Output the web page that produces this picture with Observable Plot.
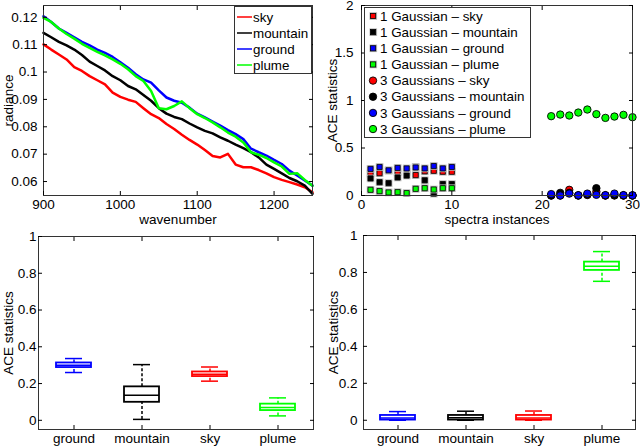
<!DOCTYPE html>
<html>
<head>
<meta charset="utf-8">
<script src="https://cdn.jsdelivr.net/npm/d3@7"></script>
<script src="https://cdn.jsdelivr.net/npm/@observablehq/plot@0.6"></script>
<style>
  body { margin: 0; background: #fff; }
  #wrap { position: relative; width: 640px; height: 446px; overflow: hidden; background: #fff;
          font-family: "Liberation Sans", Arial, Helvetica, sans-serif; }
  #wrap > svg { position: absolute; overflow: visible; }
  #wrap svg text { font-family: "Liberation Sans", Arial, Helvetica, sans-serif; fill: #000; }
</style>
</head>
<body>
<div id="wrap"></div>
<script>
// ---------- Top-left: spectra ----------
const wavenumber = [900,910,920,930,940,950,960,970,980,990,1000,1010,1020,1030,1040,1050,1060,1070,1080,1090,1100,1110,1120,1130,1140,1150,1160,1170,1180,1190,1200,1210,1220,1230,1240,1250];
const skyRadiance = [0.1101,0.1082,0.1064,0.1046,0.1018,0.1004,0.0985,0.0970,0.0955,0.0925,0.0909,0.0899,0.0891,0.0868,0.0846,0.0832,0.0810,0.0792,0.0771,0.0752,0.0735,0.0715,0.0693,0.0688,0.0701,0.0662,0.0652,0.0652,0.0642,0.0630,0.0616,0.0606,0.0598,0.0589,0.0579,0.0561];
const mountainRadiance = [0.1143,0.1127,0.1110,0.1097,0.1082,0.1062,0.1038,0.1022,0.1006,0.0985,0.0970,0.0949,0.0937,0.0916,0.0895,0.0868,0.0848,0.0836,0.0828,0.0812,0.0798,0.0785,0.0776,0.0761,0.0749,0.0735,0.0722,0.0707,0.0688,0.0662,0.0646,0.0630,0.0613,0.0601,0.0585,0.0555];
const groundRadiance = [0.1204,0.1183,0.1159,0.1143,0.1127,0.1110,0.1097,0.1082,0.1070,0.1055,0.1036,0.1016,0.0992,0.0973,0.0961,0.0933,0.0907,0.0895,0.0888,0.0870,0.0848,0.0834,0.0819,0.0804,0.0788,0.0773,0.0755,0.0720,0.0707,0.0695,0.0679,0.0664,0.0640,0.0622,0.0604,0.0585];
const plumeRadiance = [0.1198,0.1183,0.1159,0.1139,0.1122,0.1103,0.1088,0.1074,0.1061,0.1046,0.1030,0.1010,0.0985,0.0967,0.0931,0.0868,0.0864,0.0876,0.0893,0.0868,0.0846,0.0832,0.0816,0.0798,0.0779,0.0764,0.0743,0.0707,0.0698,0.0686,0.0670,0.0655,0.0628,0.0630,0.0606,0.0585];
const materials = ["sky", "mountain", "ground", "plume"];
const materialColors = ["#ff0000", "#000000", "#0000ff", "#00ff00"];
const tlXTicks = [900, 1000, 1100, 1200];
const tlYTicks = [0.06, 0.07, 0.08, 0.09, 0.1, 0.11, 0.12];

// ---------- Top-right: ACE statistics per spectrum ----------
const instances1 = [1,2,3,4,5,6,7,8,9,10];
const instances3 = [21,22,23,24,25,26,27,28,29,30];
const gauss1Sky      = [0.23, 0.235, 0.262, 0.245, 0.25, 0.215, 0.255, 0.26, 0.25, 0.25];
const gauss1Mountain = [0.18, 0.14, 0.13, 0.19, 0.21, 0.30, 0.16, 0.02, 0.12, 0.12];
const gauss1Ground   = [0.28, 0.30, 0.265, 0.29, 0.285, 0.295, 0.285, 0.31, 0.285, 0.30];
const gauss1Plume    = [0.06, 0.046, 0.032, 0.035, 0.025, 0.07, 0.077, 0.063, 0.077, 0.077];
const gauss3Sky      = [0.0, 0.0, 0.06, 0.0, 0.005, 0.04, 0.0, 0.0, 0.0, 0.0];
const gauss3Mountain = [0.0, 0.028, 0.028, 0.0, 0.01, 0.077, 0.0, 0.003, 0.0, 0.0];
const gauss3Ground   = [0.015, 0.0, 0.02, 0.003, 0.02, 0.007, 0.004, 0.02, 0.004, 0.002];
const gauss3Plume    = [0.835, 0.852, 0.842, 0.873, 0.905, 0.856, 0.817, 0.831, 0.849, 0.824];
const trXTicks = [0, 10, 20, 30];
const trYTicks = [0, 0.5, 1, 1.5, 2];
const trLegend = ["1 Gaussian – sky", "1 Gaussian – mountain", "1 Gaussian – ground", "1 Gaussian – plume",
                  "3 Gaussians – sky", "3 Gaussians – mountain", "3 Gaussians – ground", "3 Gaussians – plume"];

// ---------- Bottom: box plots ----------
const boxCats = ["ground", "mountain", "sky", "plume"];
const boxColors = ["#0000ff", "#000000", "#ff0000", "#00ff00"];
const box1Min = [0.260, 0.005, 0.213, 0.024];
const box1Q1  = [0.287, 0.098, 0.238, 0.053];
const box1Med = [0.299, 0.137, 0.250, 0.070];
const box1Q3  = [0.312, 0.182, 0.263, 0.088];
const box1Max = [0.336, 0.303, 0.290, 0.122];
const box3Min = [0.000, 0.000, 0.000, 0.752];
const box3Q1  = [0.001, 0.001, 0.001, 0.811];
const box3Med = [0.012, 0.013, 0.012, 0.833];
const box3Q3  = [0.026, 0.026, 0.026, 0.856];
const box3Max = [0.047, 0.049, 0.050, 0.913];
const boxYTicks = [0, 0.2, 0.4, 0.6, 0.8, 1];

// ---------- helpers ----------
const FONT = '"Liberation Sans", Arial, Helvetica, sans-serif';
const FS = 13.5;
const fmt = d => String(+d.toFixed(2));
const wrap = document.getElementById("wrap");
function place(svg, left, top) {
  svg.setAttribute("font-family", FONT);
  svg.setAttribute("font-size", FS);
  svg.style.fontFamily = FONT;
  svg.style.fontSize = FS + "px";
  svg.style.background = "transparent";
  svg.style.left = left + "px"; svg.style.top = top + "px";
  wrap.appendChild(svg);
}
function frameAxes(xt, yt, xLabel, yLabel, o) {
  return [
    Plot.frame({stroke: "#333"}),
    Plot.axisX(xt, {anchor: "bottom", tickSize: -4, tickPadding: o.xPad, tickFormat: o.xFmt, label: xLabel, labelAnchor: "center", labelOffset: 28, labelArrow: "none"}),
    Plot.axisX(xt, {anchor: "top", tickSize: -4, tickFormat: () => "", label: null}),
    Plot.axisY(yt, {anchor: "left", tickSize: -4, tickPadding: o.yPad, tickFormat: fmt, label: yLabel, labelAnchor: "center", labelOffset: o.yLabOff, labelArrow: "none"}),
    Plot.axisY(yt, {anchor: "right", tickSize: -4, tickFormat: () => "", label: null})
  ];
}

// Top-left
const spectra = [];
[skyRadiance, mountainRadiance, groundRadiance, plumeRadiance].forEach((vals, k) =>
  vals.forEach((v, i) => spectra.push({wavenumber: wavenumber[i], radiance: v, material: materials[k]})));
place(Plot.plot({
  width: 320, height: 222, marginLeft: 43, marginRight: 8, marginTop: 5, marginBottom: 27,
  x: {domain: [900, 1250]}, y: {domain: [0.0549, 0.1243]},
  color: {domain: materials, range: materialColors},
  marks: [
    Plot.line(spectra, {x: "wavenumber", y: "radiance", z: "material", stroke: "material", strokeWidth: 2.5}),
    ...frameAxes(tlXTicks, tlYTicks, "wavenumber", "radiance", {xPad: 8, yPad: 10, yLabOff: 40, xFmt: d => String(d)})
  ]
}), 0, 0);

// Top-right
const sq = [], ci = [];
[gauss1Sky, gauss1Mountain, gauss1Ground, gauss1Plume].forEach((vals, k) =>
  vals.forEach((v, i) => sq.push({instance: instances1[i], ace: v, material: materials[k]})));
[gauss3Sky, gauss3Mountain, gauss3Ground, gauss3Plume].forEach((vals, k) =>
  vals.forEach((v, i) => ci.push({instance: instances3[i], ace: v, material: materials[k]})));
const sqMarks = [];
materials.forEach((m, k) => {
  const d = sq.filter(r => r.material === m);
  sqMarks.push(Plot.dot(d, {x: "instance", y: "ace", symbol: "square", r: 4.3, fill: "#b8b8b8"}));
  sqMarks.push(Plot.dot(d, {x: "instance", y: "ace", symbol: "square", r: 2.9, fill: materialColors[k], stroke: "#000", strokeWidth: 0.8}));
});
place(Plot.plot({
  width: 320, height: 222, marginLeft: 41, marginRight: 8, marginTop: 5, marginBottom: 27,
  x: {domain: [0, 30]}, y: {domain: [0, 2]},
  color: {domain: materials, range: materialColors},
  marks: [
    ...sqMarks,
    Plot.dot(ci, {x: "instance", y: "ace", r: 3.7, fill: "material", stroke: "#000", strokeWidth: 0.9}),
    ...frameAxes(trXTicks, trYTicks, "spectra instances", "ACE statistics", {xPad: 8, yPad: 12, yLabOff: 34, xFmt: d => String(d)})
  ]
}), 320, 0);

// Bottom box plots
function boxPanel(mins, q1s, meds, q3s, maxs, ml, mr, mt, labOff, yPad) {
  const stats = boxCats.map((c, i) => ({cat: c, min: mins[i], q1: q1s[i], med: meds[i], q3: q3s[i], max: maxs[i]}));
  return Plot.plot({
    width: 320, height: 224, marginLeft: ml, marginRight: mr, marginTop: mt, marginBottom: 17,
    x: {domain: boxCats, paddingInner: 0.49, paddingOuter: 0.245},
    y: {domain: [-0.05, 1]},
    color: {domain: boxCats, range: boxColors},
    marks: [
      Plot.ruleX(stats, {x: "cat", y1: "q3", y2: "max", stroke: "cat", strokeWidth: 1.5, strokeDasharray: "3,2"}),
      Plot.ruleX(stats, {x: "cat", y1: "min", y2: "q1", stroke: "cat", strokeWidth: 1.5, strokeDasharray: "3,2"}),
      Plot.tickY(stats, {x: "cat", y: "max", stroke: "cat", strokeWidth: 1.5, inset: 9}),
      Plot.tickY(stats, {x: "cat", y: "min", stroke: "cat", strokeWidth: 1.5, inset: 9}),
      Plot.barY(stats, {x: "cat", y1: "q1", y2: "q3", fill: "none", stroke: "cat", strokeWidth: 1.8}),
      Plot.tickY(stats, {x: "cat", y: "med", stroke: "cat", strokeWidth: 1.5}),
      ...frameAxes(boxCats, boxYTicks, null, "ACE statistics", {xPad: 8, yPad: yPad, yLabOff: labOff, xFmt: d => d})
    ]
  });
}
place(boxPanel(box1Min, box1Q1, box1Med, box1Q3, box1Max, 38, 7, 14, 35, 6), 0, 222);
place(boxPanel(box3Min, box3Q1, box3Med, box3Q3, box3Max, 43, 5, 13, 35, 10), 320, 222);

// ---------- Legends (overlay) ----------
const ov = d3.create("svg").attr("width", 640).attr("height", 446)
  .style("left", "0px").style("top", "0px").style("font-family", FONT).style("font-size", "13.4px");
// top-left legend
ov.append("rect").attr("x", 234.5).attr("y", 6.5).attr("width", 77).attr("height", 67)
  .attr("fill", "#fff").attr("stroke", "#333");
materials.forEach((m, k) => {
  const y = 17 + k * 16;
  ov.append("line").attr("x1", 237).attr("x2", 252).attr("y1", y).attr("y2", y)
    .attr("stroke", materialColors[k]).attr("stroke-width", 1.5);
  ov.append("text").attr("x", 253).attr("y", y).attr("dy", "0.35em").text(m);
});
// top-right legend
ov.append("rect").attr("x", 364.5).attr("y", 7.5).attr("width", 166).attr("height", 130)
  .attr("fill", "#fff").attr("stroke", "#333");
trLegend.forEach((label, k) => {
  const y = 16 + k * 16.15;
  const col = materialColors[k % 4];
  if (k < 4) {
    ov.append("rect").attr("x", 369.5).attr("y", y - 3.8).attr("width", 7.6).attr("height", 7.6).attr("fill", "#b8b8b8");
    ov.append("rect").attr("x", 370.5).attr("y", y - 2.6).attr("width", 5.2).attr("height", 5.2)
      .attr("fill", col).attr("stroke", "#000").attr("stroke-width", 0.8);
  } else {
    ov.append("circle").attr("cx", 373).attr("cy", y).attr("r", 3.7)
      .attr("fill", col).attr("stroke", "#000").attr("stroke-width", 0.9);
  }
  ov.append("text").attr("x", 380).attr("y", y).attr("dy", "0.35em").text(label);
});
wrap.appendChild(ov.node());
</script>
</body>
</html>
